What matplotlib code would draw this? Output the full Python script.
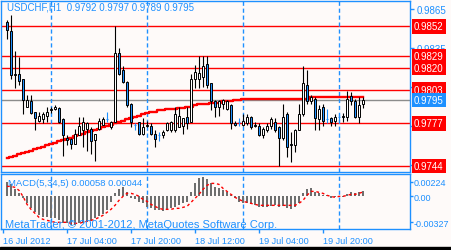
import matplotlib
matplotlib.use("Agg")
import matplotlib.pyplot as plt
import matplotlib.transforms as mtransforms
from matplotlib.patches import Rectangle
from matplotlib.ticker import FixedLocator

plt.rcParams['font.family'] = ['Liberation Sans', 'DejaVu Sans']

BLUE = '#1E90FF'
BG = '#FEFAF9'

# USDCHF H1 candles (open, high, low, close)
opens = [0.9855, 0.9848, 0.9814, 0.9815, 0.9811, 0.9790, 0.9794, 0.9786, 0.9779, 0.9780,
         0.9783, 0.9787, 0.9788, 0.9789, 0.9780, 0.9766, 0.9765, 0.9761, 0.9768, 0.9772,
         0.9773, 0.9773, 0.9764, 0.9773, 0.9776, 0.9780, 0.9774, 0.9778, 0.9831, 0.9818,
         0.9809, 0.9792, 0.9776, 0.9778, 0.9769, 0.9775, 0.9775, 0.9769, 0.9768, 0.9768,
         0.9772, 0.9772, 0.9772, 0.9774, 0.9775, 0.9782, 0.9778, 0.9811, 0.9811, 0.9813,
         0.9823, 0.9808, 0.9794, 0.9790, 0.9792, 0.9788, 0.9791, 0.9777, 0.9778, 0.9776,
         0.9777, 0.9782, 0.9776, 0.9775, 0.9768, 0.9772, 0.9775, 0.9778, 0.9774, 0.9766,
         0.9784, 0.9761, 0.9760, 0.9772, 0.9784, 0.9807, 0.9794, 0.9796, 0.9780, 0.9790,
         0.9780, 0.9781, 0.9779, 0.9782, 0.9782, 0.9782, 0.9798, 0.9794, 0.9782, 0.9792]
highs = [0.9857, 0.9861, 0.9833, 0.9828, 0.9811, 0.9799, 0.9799, 0.9786, 0.9786, 0.9786,
         0.9790, 0.9790, 0.9791, 0.9790, 0.9781, 0.9768, 0.9766, 0.9773, 0.9782, 0.9782,
         0.9778, 0.9774, 0.9769, 0.9781, 0.9782, 0.9786, 0.9779, 0.9852, 0.9835, 0.9821,
         0.9810, 0.9793, 0.9777, 0.9778, 0.9781, 0.9779, 0.9777, 0.9772, 0.9770, 0.9772,
         0.9778, 0.9779, 0.9790, 0.9790, 0.9781, 0.9790, 0.9815, 0.9822, 0.9829, 0.9829,
         0.9829, 0.9808, 0.9795, 0.9795, 0.9796, 0.9795, 0.9792, 0.9779, 0.9781, 0.9784,
         0.9784, 0.9783, 0.9778, 0.9777, 0.9774, 0.9777, 0.9782, 0.9781, 0.9775, 0.9792,
         0.9786, 0.9770, 0.9773, 0.9792, 0.9821, 0.9818, 0.9799, 0.9797, 0.9791, 0.9792,
         0.9788, 0.9782, 0.9784, 0.9784, 0.9785, 0.9802, 0.9801, 0.9796, 0.9797, 0.9797]
lows = [0.9842, 0.9811, 0.9804, 0.9807, 0.9784, 0.9790, 0.9784, 0.9772, 0.9778, 0.9777,
        0.9778, 0.9785, 0.9787, 0.9777, 0.9752, 0.9760, 0.9757, 0.9761, 0.9768, 0.9759,
        0.9756, 0.9753, 0.9748, 0.9772, 0.9776, 0.9778, 0.9773, 0.9778, 0.9814, 0.9808,
        0.9790, 0.9774, 0.9772, 0.9768, 0.9768, 0.9774, 0.9768, 0.9759, 0.9763, 0.9766,
        0.9771, 0.9770, 0.9770, 0.9774, 0.9769, 0.9773, 0.9778, 0.9804, 0.9804, 0.9805,
        0.9804, 0.9787, 0.9782, 0.9783, 0.9788, 0.9787, 0.9773, 0.9775, 0.9775, 0.9775,
        0.9776, 0.9773, 0.9774, 0.9767, 0.9766, 0.9770, 0.9773, 0.9770, 0.9744, 0.9764,
        0.9751, 0.9747, 0.9755, 0.9772, 0.9783, 0.9792, 0.9792, 0.9772, 0.9772, 0.9775,
        0.9777, 0.9775, 0.9775, 0.9779, 0.9778, 0.9779, 0.9791, 0.9781, 0.9777, 0.9789]
closes = [0.9849, 0.9814, 0.9815, 0.9810, 0.9795, 0.9795, 0.9785, 0.9781, 0.9783, 0.9784,
          0.9786, 0.9788, 0.9790, 0.9778, 0.9768, 0.9764, 0.9761, 0.9769, 0.9775, 0.9778,
          0.9777, 0.9763, 0.9769, 0.9779, 0.9780, 0.9780, 0.9778, 0.9831, 0.9815, 0.9809,
          0.9791, 0.9778, 0.9776, 0.9769, 0.9774, 0.9776, 0.9769, 0.9765, 0.9768, 0.9770,
          0.9777, 0.9778, 0.9784, 0.9783, 0.9781, 0.9777, 0.9811, 0.9817, 0.9816, 0.9821,
          0.9807, 0.9794, 0.9790, 0.9794, 0.9795, 0.9794, 0.9777, 0.9776, 0.9778, 0.9779,
          0.9782, 0.9774, 0.9775, 0.9768, 0.9773, 0.9775, 0.9780, 0.9772, 0.9766, 0.9782,
          0.9759, 0.9760, 0.9772, 0.9784, 0.9808, 0.9794, 0.9797, 0.9781, 0.9788, 0.9779,
          0.9780, 0.9778, 0.9782, 0.9782, 0.9783, 0.9796, 0.9794, 0.9782, 0.9791, 0.9795]

# moving average (red stepped line)
ma = [0.9750, 0.9751, 0.9752, 0.9753, 0.9754, 0.9755, 0.9756, 0.9757, 0.9758, 0.9759,
      0.9760, 0.9761, 0.9762, 0.9763, 0.9764, 0.9765, 0.9766, 0.9767, 0.9768, 0.9769,
      0.9770, 0.9771, 0.9772, 0.9773, 0.9774, 0.9775, 0.9776, 0.9777, 0.9778, 0.9779,
      0.9780, 0.9781, 0.9782, 0.9783, 0.9784, 0.9785, 0.9786, 0.9786, 0.9787, 0.9787,
      0.9788, 0.9788, 0.9788, 0.9789, 0.9789, 0.9790, 0.9790, 0.9791, 0.9792, 0.9792,
      0.9792, 0.9793, 0.9793, 0.9793, 0.9794, 0.9794, 0.9794, 0.9795, 0.9795, 0.9796,
      0.9796, 0.9796, 0.9796, 0.9796, 0.9796, 0.9796, 0.9796, 0.9796, 0.9796, 0.9796,
      0.9796, 0.9796, 0.9796, 0.9796, 0.9796, 0.9796, 0.9797, 0.9797, 0.9797, 0.9797,
      0.9797, 0.9797, 0.9797, 0.9797, 0.9797, 0.9797, 0.9797, 0.9797, 0.9797, 0.9797]

# MACD(5,34,5)
macd_main = [0.0014, 0.0012, 0.0007, 0.0003, -0.0002, -0.0007, -0.0012, -0.0016, -0.0019, -0.0021,
             -0.0021, -0.0022, -0.0022, -0.0024, -0.0027, -0.0027, -0.0029, -0.0029, -0.0027, -0.0027,
             -0.0026, -0.0025, -0.0022, -0.0020, -0.0018, -0.0014, -0.0006, 0.0003, 0.0007, 0.0009,
             0.0004, -0.0002, -0.0003, -0.0006, -0.0007, -0.0011, -0.0012, -0.0014, -0.0014, -0.0015,
             -0.0014, -0.0012, -0.0011, -0.0009, -0.0007, -0.0006, 0.0004, 0.0013, 0.0018, 0.0019,
             0.0017, 0.0013, 0.0009, 0.0008, 0.0006, 0.0004, 0.0001, -0.0002, -0.0006, -0.0007,
             -0.0007, -0.0008, -0.0009, -0.0011, -0.0011, -0.0011, -0.0010, -0.0009, -0.0011, -0.0010,
             -0.0012, -0.0013, -0.0011, -0.0007, 0.0003, 0.0007, 0.0008, 0.0004, 0.0003, 0.0001,
             0.0001, -0.0002, -0.0001, 0.0000, -0.0001, 0.0002, 0.0004, 0.0003, 0.0004, 0.00058]
macd_signal = [0.0010, 0.0010, 0.0009, 0.0006, 0.0000, -0.0008, -0.0013, -0.0017, -0.0021, -0.0023,
               -0.0024, -0.0025, -0.0026, -0.0026, -0.0026, -0.0026, -0.0027, -0.0027, -0.0027, -0.0026,
               -0.0025, -0.0024, -0.0023, -0.0021, -0.0019, -0.0016, -0.0013, -0.0009, -0.0004, 0.0000,
               0.0003, 0.0003, 0.0002, 0.0000, -0.0003, -0.0005, -0.0008, -0.0010, -0.0012, -0.0013,
               -0.0013, -0.0013, -0.0012, -0.0012, -0.0011, -0.0010, -0.0006, -0.0002, 0.0002, 0.0007,
               0.0011, 0.0013, 0.0013, 0.0012, 0.0008, 0.0005, 0.0002, -0.0001, -0.0003, -0.0005,
               -0.0006, -0.0007, -0.0008, -0.0009, -0.0009, -0.0009, -0.0009, -0.0009, -0.0009, -0.0009,
               -0.0009, -0.0009, -0.0009, -0.0007, -0.0004, 0.0001, 0.0005, 0.0005, 0.0004, 0.0003,
               0.0001, 0.0000, -0.0001, 0.0000, 0.0000, 0.0001, 0.0002, 0.0002, 0.0003, 0.00044]

levels = [0.9852, 0.9829, 0.9820, 0.9803, 0.9777, 0.9744]
bid = 0.9795
price_ticks = [0.9865, 0.9835, 0.9805, 0.9775, 0.9745]
price_tick_labels = ['0.9865', '0.9835', '', '', '']   # the rest sit under the level boxes
day_bars = [11, 35, 59, 83]
time_bars = [-1, 15, 31, 47, 63, 79]
time_labels = ['16 Jul 2012', '17 Jul 04:00', '17 Jul 20:00', '18 Jul 12:00',
               '19 Jul 04:00', '19 Jul 20:00']
macd_tick_labels = ['0.00224', '0.00', '-0.00327']

fig = plt.figure(figsize=(4.51, 2.51), dpi=100, facecolor=BG)
W, H = 451.0, 251.0
ax = fig.add_axes([1 / W, 1 - 173 / H, 409 / W, 171.5 / H], facecolor=BG)
ax2 = fig.add_axes([1 / W, 1 - 230 / H, 409 / W, 55 / H], facecolor=BG)

x = list(range(len(opens)))
xlim = (-1.5, 100.75)

# ---- price pane ----
for lv in levels:
    ax.axhline(lv, color='red', lw=1.0, zorder=1)
ax.axhline(bid, color='#8C8C8C', lw=1.0, zorder=1)
for d in day_bars:
    ax.axvline(d, color=BLUE, lw=1.0, ls=(0, (3, 2)), zorder=1)

ax.plot(x, ma, color='red', lw=1.7, drawstyle='steps-mid', zorder=2)

for i in x:
    o, h, l, c = opens[i], highs[i], lows[i], closes[i]
    if o == c:
        ax.vlines(i, l, h, color=BLUE, lw=0.8, zorder=3)
        ax.hlines(o, i - 0.35, i + 0.35, color=BLUE, lw=0.8, zorder=3)
        continue
    ax.vlines(i, l, h, color='black', lw=0.8, zorder=3)
    fill = 'white' if c > o else BLUE
    ax.bar(i, abs(c - o), bottom=min(o, c), width=0.55, color=fill,
           edgecolor='black', linewidth=0.7, zorder=4)

ax.set_xlim(*xlim)
ax.set_ylim(0.97394, 0.98719)
ax.set_xticks([])
ax.yaxis.tick_right()
ax.set_yticks(price_ticks)
ax.set_yticklabels(price_tick_labels)
ax.tick_params(axis='y', colors=BLUE, length=3, width=1, pad=1.5, labelsize=7)
for s in ax.spines.values():
    s.set_color(BLUE)
    s.set_linewidth(1.0)

ax.text(0.014, 0.993, 'USDCHF,H1  0.9792 0.9797 0.9789 0.9795', transform=ax.transAxes,
        ha='left', va='top', color=BLUE, fontsize=7)

tr = mtransforms.blended_transform_factory(ax.transAxes, ax.transData)
for lv in levels:
    ax.text(1.0098, lv, '%.4f' % lv, transform=tr, ha='left', va='center', color='white',
            fontsize=7, clip_on=False, zorder=6,
            bbox=dict(boxstyle='square,pad=0.25', fc='red', ec='none'))
ax.text(1.0098, bid, '%.4f' % bid, transform=tr, ha='left', va='center', color='white',
        fontsize=7, clip_on=False, zorder=6,
        bbox=dict(boxstyle='square,pad=0.25', fc=BLUE, ec='none'))

# ---- MACD pane ----
for d in day_bars:
    ax2.axvline(d, color=BLUE, lw=1.0, ls=(0, (3, 2)), zorder=1)
ax2.bar(x, macd_main, width=0.65, color='#6E6E6E', zorder=2)
ax2.plot(x, macd_signal, color='red', lw=1.0, ls=(0, (2, 2)), zorder=3)
ax2.set_xlim(*xlim)
ax2.set_ylim(-0.00327, 0.00224)
ax2.yaxis.tick_right()
ax2.yaxis.set_major_locator(FixedLocator([0.00147, 0.0, -0.0026]))
ax2.set_yticklabels(macd_tick_labels)
ax2.tick_params(axis='y', colors=BLUE, length=2, width=1, pad=0.5, labelsize=6.5)
ax2.set_xticks(time_bars)
ax2.set_xticklabels(time_labels)
ax2.tick_params(axis='x', colors=BLUE, length=3, width=1, pad=2, labelsize=6.6)
for lab in ax2.get_xticklabels():
    lab.set_ha('left')
for s in ax2.spines.values():
    s.set_color(BLUE)
    s.set_linewidth(1.0)

ax2.text(0.016, 0.93, 'MACD(5,34,5) 0.00058 0.00044', transform=ax2.transAxes,
         ha='left', va='top', color=BLUE, fontsize=6.8, zorder=5)
ax2.text(0.01, 0.0, 'MetaTrader, \u00a9 2001-2012, MetaQuotes Software Corp.',
         transform=ax2.transAxes, ha='left', va='bottom', color=BLUE, fontsize=8, zorder=5)

fig.patches.append(Rectangle((0, 0), 1, 3 / H, transform=fig.transFigure,
                             color='black', zorder=10))

fig.savefig('out.png', dpi=100, facecolor=BG)
